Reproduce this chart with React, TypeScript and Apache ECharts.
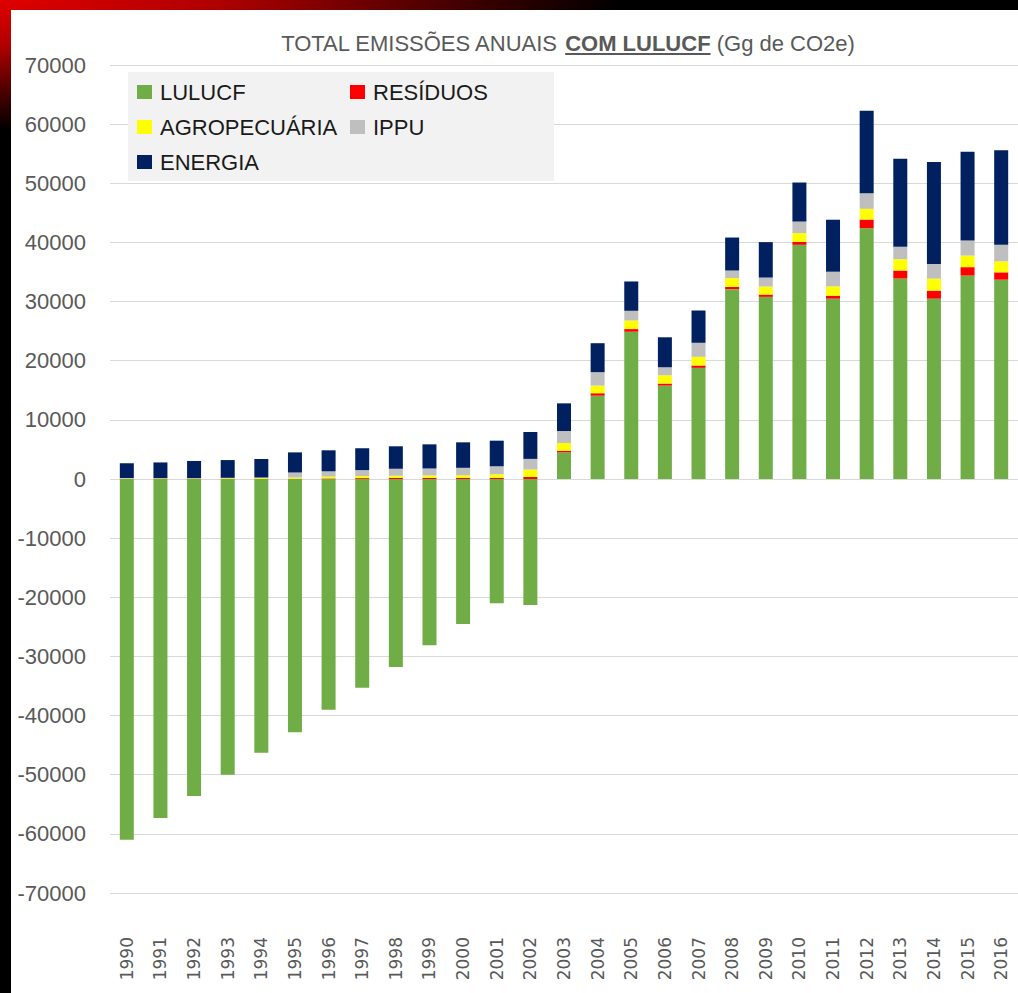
import React, { useEffect, useRef } from "react";
import * as echarts from "echarts";

const years = [
  "1990", "1991", "1992", "1993", "1994", "1995", "1996", "1997", "1998",
  "1999", "2000", "2001", "2002", "2003", "2004", "2005", "2006", "2007",
  "2008", "2009", "2010", "2011", "2012", "2013", "2014", "2015", "2016",
];

const lulucf = [
  -61000, -57300, -53600, -50000, -46300, -42800, -39000, -35300, -31800,
  -28100, -24500, -21000, -21300, 4500, 14100, 24900, 15800, 18800,
  32100, 30800, 39600, 30500, 42400, 33900, 30500, 34400, 33700,
];
const residuos = [
  50, 50, 50, 50, 50, 50, 100, 150, 200,
  200, 200, 200, 350, 280, 400, 450, 340, 390,
  390, 390, 500, 500, 1470, 1350, 1350, 1420, 1240,
];
const agropecuaria = [
  50, 50, 50, 100, 100, 200, 300, 350, 350,
  400, 450, 600, 1250, 1300, 1290, 1450, 1400, 1470,
  1470, 1350, 1470, 1570, 1810, 1910, 2030, 1960, 1860,
];
const ippu = [
  50, 50, 50, 50, 100, 850, 900, 1000, 1180,
  1180, 1240, 1350, 1800, 2030, 2270, 1640, 1350, 2370,
  1290, 1520, 1960, 2480, 2640, 2100, 2480, 2540, 2820,
];
const energia = [
  2500, 2650, 2900, 3000, 3150, 3400, 3550, 3700, 3800,
  4080, 4310, 4330, 4550, 4680, 4900, 4960, 5070, 5460,
  5580, 5990, 6600, 8790, 13930, 14880, 17250, 15000, 15950,
];

const titleParts = ["TOTAL EMISSÕES ANUAIS ", "COM LULUCF", " (Gg de CO2e)"];
const legendLeft = ["LULUCF", "AGROPECUÁRIA", "ENERGIA"];
const legendRight = ["RESÍDUOS", "IPPU"];

const FONT = "'Liberation Sans', Arial, sans-serif";

function measure(text: string, font: string): number {
  const c = document.createElement("canvas");
  const ctx = c.getContext("2d");
  if (!ctx) return text.length * 12;
  ctx.font = font;
  return ctx.measureText(text).width;
}

export default function App() {
  const ref = useRef<HTMLDivElement>(null);

  useEffect(() => {
    if (!ref.current) return;
    const chart = echarts.init(ref.current, null, { renderer: "svg" });

    const fs = 22;
    const regFont = `${fs}px ${FONT}`;
    const boldFont = `bold ${fs}px ${FONT}`;
    const w0 = measure(titleParts[0], regFont);
    const w1 = measure(titleParts[1], boldFont);
    const w2 = measure(titleParts[2], regFont);
    const total = w0 + w1 + w2;
    const cx = 568;
    const ty = 43;
    const x0 = cx - total / 2;

    const titleColor = "#595959";

    const mkSeries = (name: string, data: number[], color: string) => ({
      name,
      type: "bar",
      stack: "total",
      data,
      barWidth: 14,
      itemStyle: { color },
      emphasis: { disabled: true },
    });

    const legendBase = {
      orient: "vertical",
      top: 81,
      padding: 0,
      itemWidth: 15,
      itemHeight: 14,
      itemGap: 13,
      icon: "rect",
      selectedMode: false,
      textStyle: {
        fontSize: 22,
        lineHeight: 22,
        fontFamily: FONT,
        color: "#1a1a1a",
        padding: [0, 0, 0, 3],
      },
      z: 5,
    };

    chart.setOption({
      animation: false,
      backgroundColor: "transparent",
      grid: { left: 110, right: 0, top: 65, bottom: 100, containLabel: false },
      legend: [
        { ...legendBase, data: legendLeft, left: 137 },
        { ...legendBase, data: legendRight, left: 350 },
      ],
      xAxis: {
        type: "category",
        data: years,
        axisLine: { show: false, onZero: false },
        axisTick: { show: false },
        axisLabel: {
          rotate: 90,
          margin: 44,
          fontSize: 17,
          fontFamily: "'DejaVu Sans', sans-serif",
          color: "#595959",
        },
      },
      yAxis: {
        type: "value",
        min: -70000,
        max: 70000,
        interval: 10000,
        axisLine: { show: false },
        axisTick: { show: false },
        axisLabel: {
          margin: 24,
          fontSize: 22,
          fontFamily: FONT,
          color: "#595959",
          formatter: (v: number) => String(v),
        },
        splitLine: { lineStyle: { color: "#d9d9d9", width: 1 } },
      },
      series: [
        mkSeries("LULUCF", lulucf, "#70ad47"),
        mkSeries("RESÍDUOS", residuos, "#ff0000"),
        mkSeries("AGROPECUÁRIA", agropecuaria, "#ffff00"),
        mkSeries("IPPU", ippu, "#bfbfbf"),
        mkSeries("ENERGIA", energia, "#002060"),
      ],
      graphic: [
        {
          type: "rect",
          z: 3,
          silent: true,
          shape: { x: 128, y: 72, width: 426, height: 109 },
          style: { fill: "#f2f2f2" },
        },
        {
          type: "text",
          z: 10,
          silent: true,
          style: {
            text: titleParts[0],
            x: x0,
            y: ty,
            font: regFont,
            fill: titleColor,
            textAlign: "left",
            textVerticalAlign: "middle",
            align: "left",
            verticalAlign: "middle",
          },
        },
        {
          type: "text",
          z: 10,
          silent: true,
          style: {
            text: titleParts[1],
            x: x0 + w0,
            y: ty,
            font: boldFont,
            fill: titleColor,
            textAlign: "left",
            textVerticalAlign: "middle",
            align: "left",
            verticalAlign: "middle",
          },
        },
        {
          type: "text",
          z: 10,
          silent: true,
          style: {
            text: titleParts[2],
            x: x0 + w0 + w1,
            y: ty,
            font: regFont,
            fill: titleColor,
            textAlign: "left",
            textVerticalAlign: "middle",
            align: "left",
            verticalAlign: "middle",
          },
        },
        {
          type: "line",
          z: 10,
          silent: true,
          shape: { x1: x0 + w0, y1: ty + 11, x2: x0 + w0 + w1, y2: ty + 11 },
          style: { stroke: titleColor, lineWidth: 2 },
        },
      ],
    });

    return () => chart.dispose();
  }, []);

  return (
    <div
      style={{
        position: "fixed",
        left: 0,
        top: 0,
        width: 1018,
        height: 993,
        overflow: "hidden",
        background:
          "radial-gradient(ellipse 620px 130px at 0px 0px, #e00000 0%, #b00000 35%, #400000 75%, #000000 100%)",
        backgroundColor: "#000",
      }}
    >
      <div
        style={{
          position: "absolute",
          left: 11,
          top: 10,
          right: 0,
          bottom: 0,
          background: "#ffffff",
        }}
      />
      <div
        ref={ref}
        style={{ position: "absolute", left: 0, top: 0, width: 1018, height: 993 }}
      />
    </div>
  );
}
